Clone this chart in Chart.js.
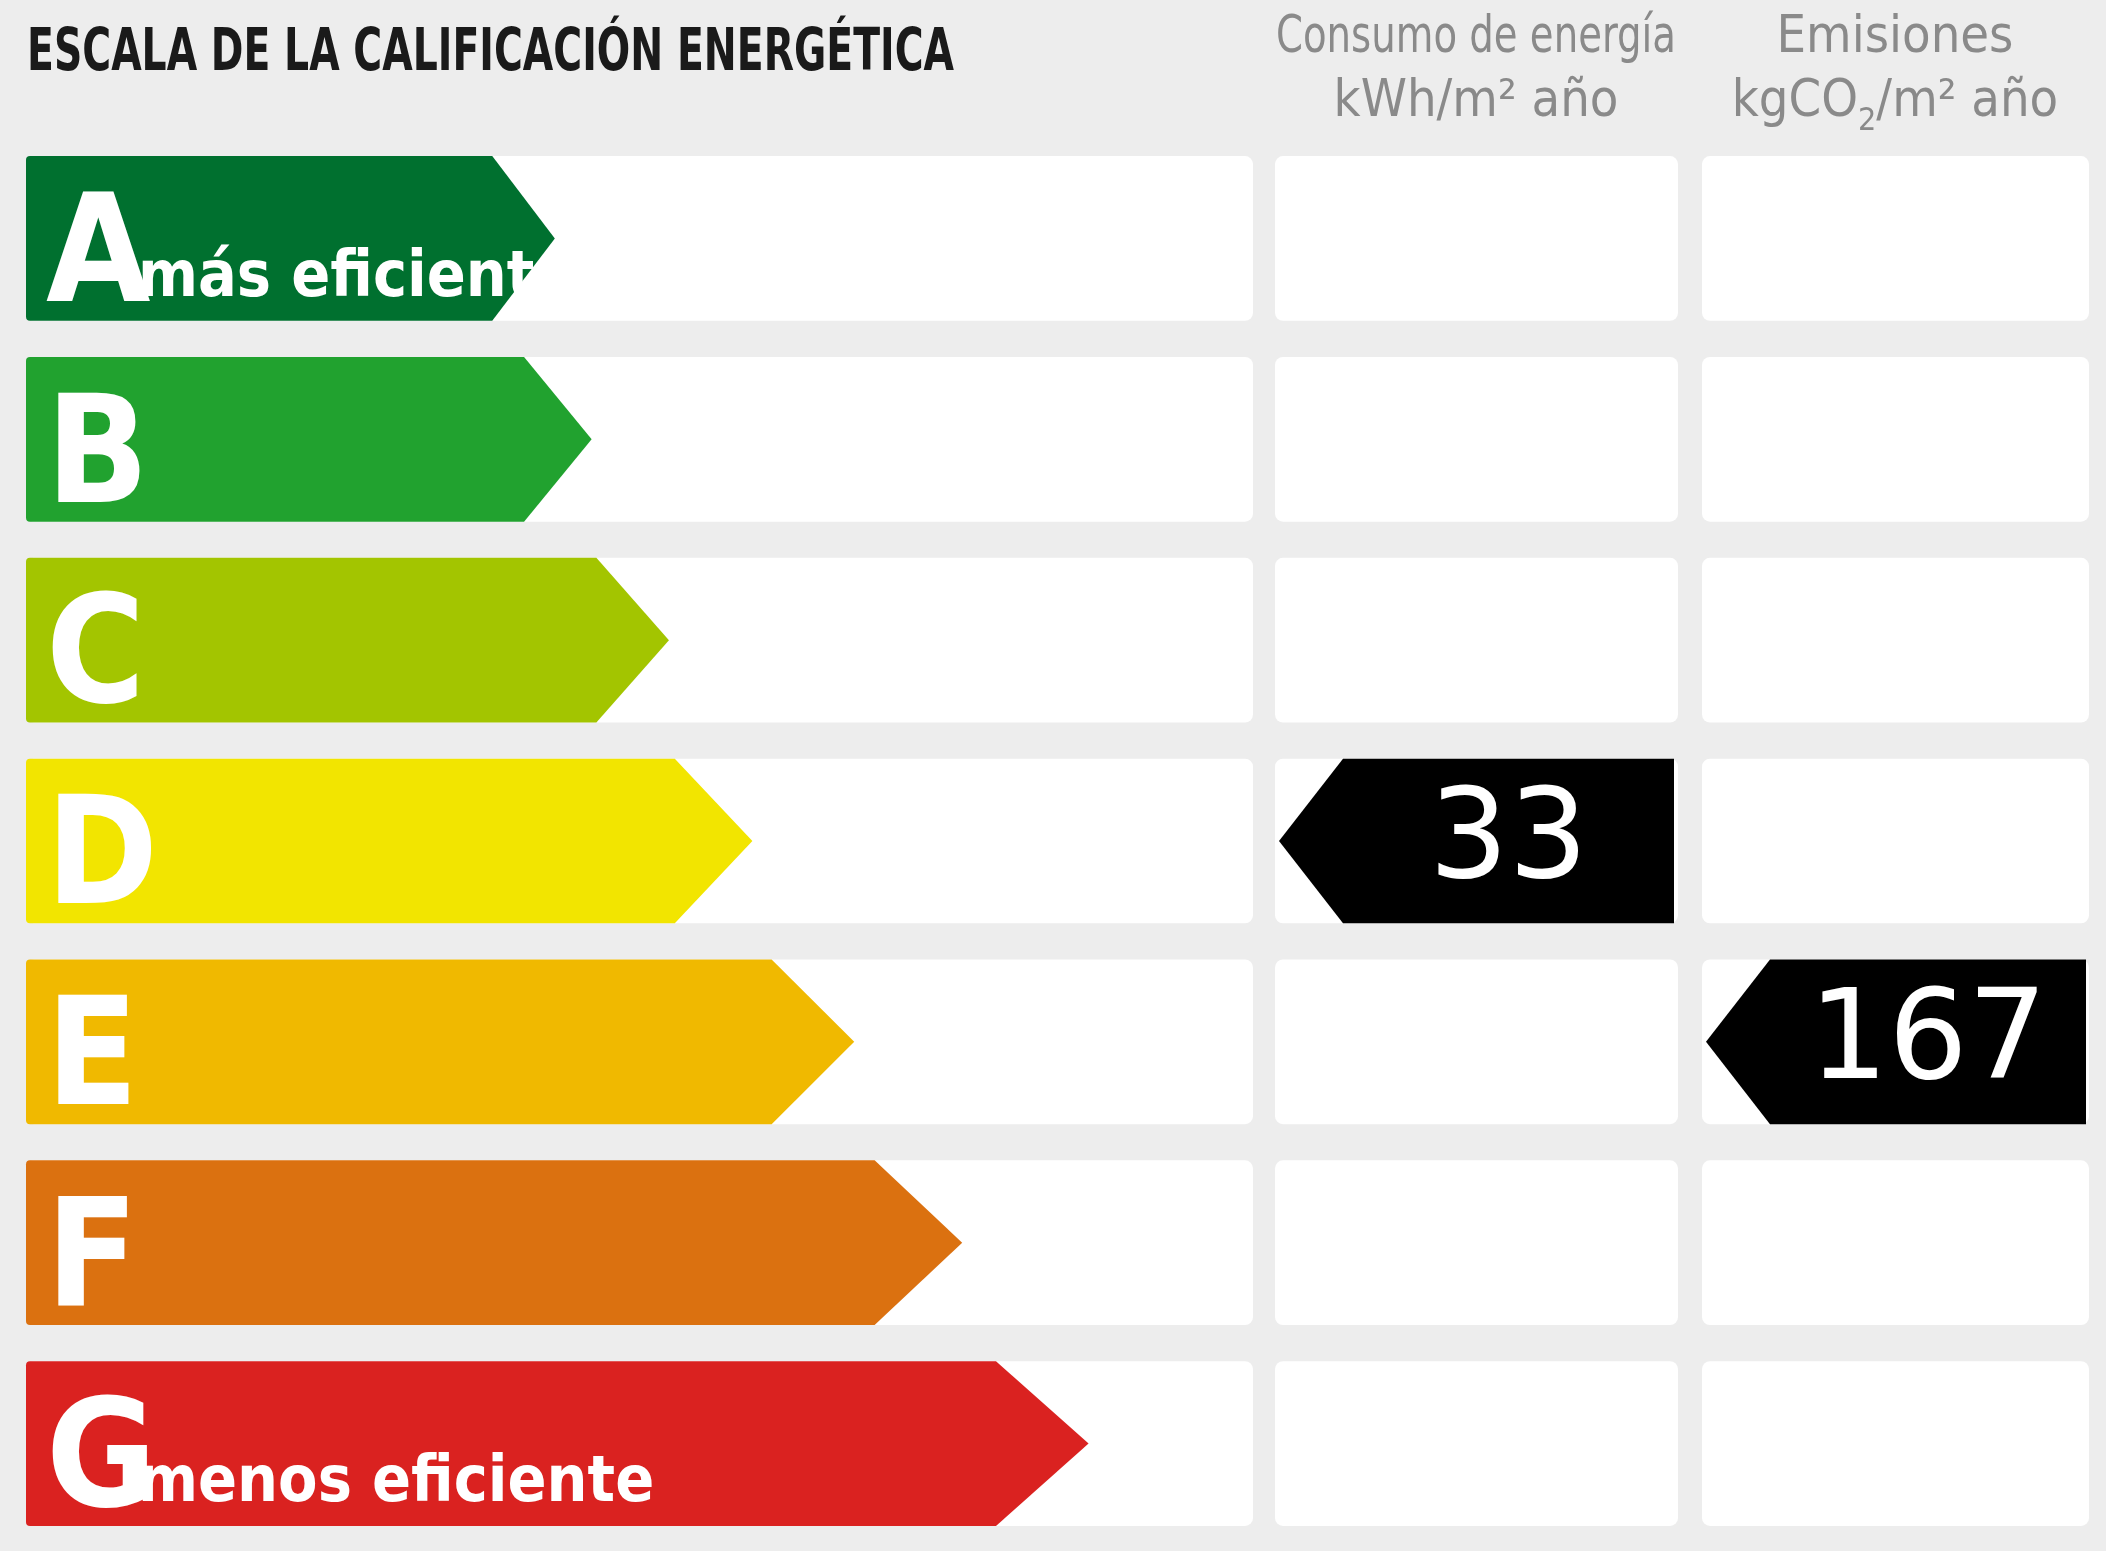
<!DOCTYPE html>
<html><head><meta charset="utf-8">
<script src="https://cdn.jsdelivr.net/npm/chart.js@4/dist/chart.umd.min.js"></script>
<style>html,body{margin:0;padding:0;background:#ededed;}#w{width:2106px;height:1551px;}</style>
</head><body><div id="w"><canvas id="c"></canvas></div>
<script>
const categories = ['A','B','C','D','E','F','G'];
const arrowLengths = [43.1, 46.1, 52.4, 59.2, 67.5, 76.3, 86.6];
const colors = ['#00702f','#21a22f','#a3c500','#f2e500','#f0b900','#db7110','#da2220'];
const subLabels = ['más eficiente','','','','','','menos eficiente'];
const consumoValue = 33, consumoClass = 'D';
const emisionesValue = 167, emisionesClass = 'E';
const title = 'ESCALA DE LA CALIFICACIÓN ENERGÉTICA';

const NARROW = '"Liberation Sans Narrow","DejaVu Sans Condensed",sans-serif';
function fitText(ctx, txt, x, y, font, maxW, align){
  ctx.font = font; const w = ctx.measureText(txt).width;
  const s = Math.min(1, maxW / w);
  ctx.save(); ctx.translate(x, y); ctx.scale(s, 1);
  ctx.textAlign = align || 'left'; ctx.fillText(txt, 0, 0); ctx.restore();
}
function rr(ctx,x,y,w,h,r){ctx.beginPath();ctx.roundRect(x,y,w,h,r);ctx.fill();}

const plugin = {
  id:'label',
  beforeDatasetsDraw(chart){
    const ctx = chart.ctx, xs = chart.scales.x;
    const meta = chart.getDatasetMeta(0);
    ctx.save();
    ctx.fillStyle = '#ededed'; ctx.fillRect(0,0,chart.width,chart.height);
    const x0 = xs.getPixelForValue(0), x1 = xs.getPixelForValue(100);
    meta.data.forEach((bar,i)=>{
      const top = bar.y - bar.height/2, h = bar.height;
      ctx.fillStyle = '#ffffff';
      rr(ctx, x0, top, x1-x0, h, 8);
      rr(ctx, x1+22, top, 403, h, 8);
      rr(ctx, x1+449, top, 387, h, 8);
    });
    // title & headers
    ctx.fillStyle = '#1a1a1a';
    fitText(ctx, title, 27, 70, 'bold 58px '+NARROW, 927);
    ctx.fillStyle = '#8a8a8a';
    const c2 = x1+22+201, c3 = x1+449+193;
    fitText(ctx,'Consumo de energía',c2,52,'52px '+NARROW,400,'center');
    fitText(ctx,'kWh/m² año',c2,116,'52px '+NARROW,400,'center');
    fitText(ctx,'Emisiones',c3,52,'52px '+NARROW,400,'center');
    ctx.font='52px '+NARROW; ctx.textAlign='left';
    const parts=['kgCO','2','/m² año']; 
    const wA=ctx.measureText(parts[0]).width, wC=ctx.measureText(parts[2]).width;
    ctx.font='32px '+NARROW; const wB=ctx.measureText('2').width;
    let sx=c3-(wA+wB+wC)/2;
    ctx.font='52px '+NARROW; ctx.fillText(parts[0],sx,116); sx+=wA;
    ctx.font='32px '+NARROW; ctx.fillText('2',sx,130); sx+=wB;
    ctx.font='52px '+NARROW; ctx.fillText(parts[2],sx,116);
    // arrows
    meta.data.forEach((bar,i)=>{
      const top = bar.y - bar.height/2, h = bar.height, tip = bar.x;
      const pl = h*0.38 + i*5;
      ctx.fillStyle = colors[i];
      ctx.beginPath();
      ctx.moveTo(x0+4, top); ctx.lineTo(tip-pl, top); ctx.lineTo(tip, bar.y);
      ctx.lineTo(tip-pl, top+h); ctx.lineTo(x0+4, top+h);
      ctx.quadraticCurveTo(x0, top+h, x0, top+h-4); ctx.lineTo(x0, top+4);
      ctx.quadraticCurveTo(x0, top, x0+4, top); ctx.fill();
      ctx.fillStyle = '#ffffff';
      ctx.font = 'bold 150px '+NARROW; ctx.textAlign='left';
      ctx.fillText(categories[i], x0+20, top+h-20);
      if (subLabels[i]) fitText(ctx, subLabels[i], x0+112, top+h-25, 'bold 64px '+NARROW, 1000);
    });
    // value markers
    function marker(val, cls, bx, bw){
      const bar = meta.data[categories.indexOf(cls)];
      const top = bar.y - bar.height/2, h = bar.height;
      ctx.fillStyle = '#000';
      ctx.beginPath(); ctx.moveTo(bx, bar.y); ctx.lineTo(bx+64, top); ctx.lineTo(bx+bw, top);
      ctx.lineTo(bx+bw, top+h); ctx.lineTo(bx+64, top+h); ctx.closePath(); ctx.fill();
      ctx.fillStyle = '#fff'; ctx.font = '125px "DejaVu Sans",sans-serif'; ctx.textAlign='center';
      ctx.textBaseline='middle'; ctx.fillText(String(val), bx+64+(bw-64)/2, bar.y+4); ctx.textBaseline='alphabetic';
    }
    marker(consumoValue, consumoClass, x1+26, 395);
    marker(emisionesValue, emisionesClass, x1+453, 380);
    ctx.restore();
  }
};

new Chart(document.getElementById('c'), {
  type:'bar',
  data:{labels:categories, datasets:[{data:arrowLengths, backgroundColor:'rgba(0,0,0,0)', barPercentage:0.82, categoryPercentage:1}]},
  options:{indexAxis:'y', responsive:true, maintainAspectRatio:false, animation:false,
    layout:{padding:{left:26,right:853,top:138,bottom:7}},
    plugins:{legend:{display:false},tooltip:{enabled:false}},
    scales:{x:{display:false,min:0,max:100},y:{display:false}}},
  plugins:[plugin]
});
</script></body></html>
